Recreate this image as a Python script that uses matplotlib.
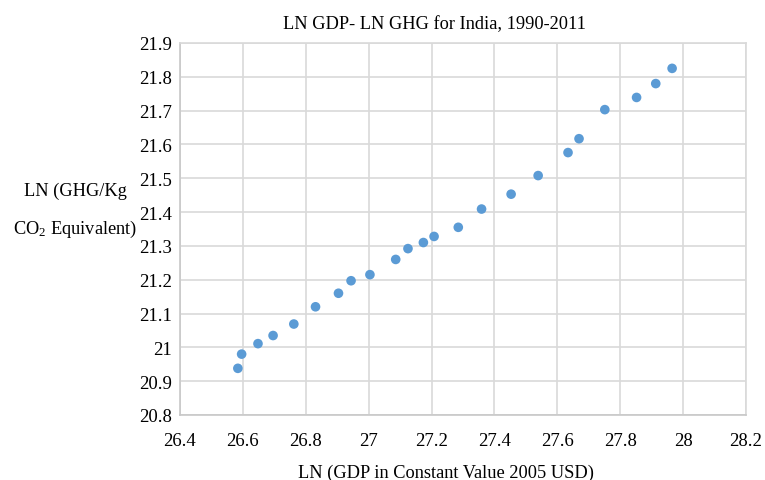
import matplotlib
matplotlib.use("Agg")
import matplotlib.pyplot as plt

ln_gdp = [26.584, 26.596, 26.648, 26.696, 26.762, 26.831, 26.904, 26.944,
          27.004, 27.086, 27.125, 27.174, 27.208, 27.285, 27.359, 27.453,
          27.539, 27.634, 27.669, 27.751, 27.852, 27.913, 27.965]
ln_ghg = [20.938, 20.980, 21.011, 21.035, 21.069, 21.120, 21.160, 21.197,
          21.215, 21.260, 21.292, 21.310, 21.328, 21.355, 21.409, 21.453,
          21.508, 21.576, 21.617, 21.703, 21.739, 21.780, 21.825]
x_ticks = [26.4, 26.6, 26.8, 27.0, 27.2, 27.4, 27.6, 27.8, 28.0, 28.2]
x_tick_labels = ["26.4", "26.6", "26.8", "27", "27.2", "27.4", "27.6", "27.8", "28", "28.2"]
y_ticks = [20.8, 20.9, 21.0, 21.1, 21.2, 21.3, 21.4, 21.5, 21.6, 21.7, 21.8, 21.9]
y_tick_labels = ["20.8", "20.9", "21", "21.1", "21.2", "21.3", "21.4", "21.5", "21.6", "21.7", "21.8", "21.9"]

plt.rcParams['font.family'] = ['Liberation Serif', 'DejaVu Serif']
plt.rcParams['mathtext.fontset'] = 'custom'
plt.rcParams['mathtext.rm'] = 'Liberation Serif'
plt.rcParams['mathtext.it'] = 'Liberation Serif:italic'

W, H = 765, 481
fig = plt.figure(figsize=(W / 100, H / 100), dpi=100)
ax = fig.add_axes([180 / W, 1 - 416 / H, (746 - 180) / W, (416 - 44) / H])

ax.scatter(ln_gdp, ln_ghg, s=48, color='#5B9BD5', edgecolors='none', zorder=3)

ax.set_xlim(26.4, 28.2)
ax.set_ylim(20.8, 21.9)
ax.set_xticks(x_ticks)
ax.set_xticklabels(x_tick_labels)
ax.set_yticks(y_ticks)
ax.set_yticklabels(y_tick_labels)
ax.tick_params(axis='both', length=0, labelsize=13.5, colors='#000000')
ax.tick_params(axis='x', pad=12)
ax.tick_params(axis='y', pad=6)
ax.grid(True, color='#D9D9D9', linewidth=1.2)
ax.set_axisbelow(True)
for s in ax.spines.values():
    s.set_color('#D9D9D9')
    s.set_linewidth(1.2)
ax.spines['left'].set_color('#C8C8C8')
ax.spines['bottom'].set_color('#C8C8C8')

fs = 13.2
fig.text(434 / W, 1 - 25 / H, "LN GDP- LN GHG for India, 1990-2011", ha='center', va='center', fontsize=fs)
fig.text(446 / W, 1 - 473 / H, "LN (GDP in Constant Value 2005 USD)", ha='center', va='center', fontsize=fs)
fig.text(75 / W, 1 - 191 / H, "LN (GHG/Kg", ha='center', va='center', fontsize=fs)
fig.text(75 / W, 1 - 229 / H, r"CO$_\mathrm{2}$ Equivalent)", ha='center', va='center', fontsize=fs)

fig.savefig("out.png", dpi=100)
